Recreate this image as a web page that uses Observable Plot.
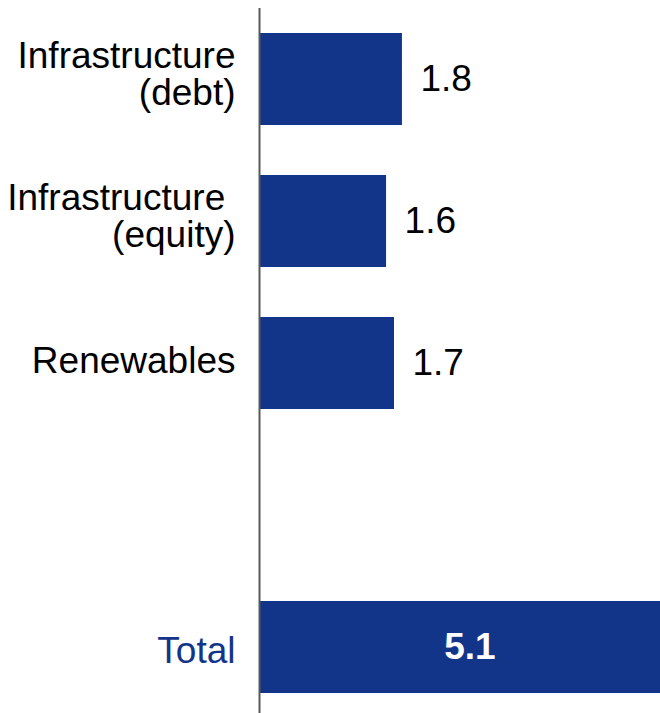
<!DOCTYPE html>
<html>
<head>
<meta charset="utf-8">
<script src="https://cdn.jsdelivr.net/npm/d3@7"></script>
<script src="https://cdn.jsdelivr.net/npm/@observablehq/plot@0.6"></script>
<style>
  html, body { margin: 0; padding: 0; background: #fff; }
  #chart svg { display: block; }
</style>
</head>
<body>
<div id="chart"></div>
<script>
const categories = ["Infrastructure\n(debt)", "Infrastructure\u00A0\n(equity)", "Renewables", "", "Total"];
const labels = ["Infrastructure\n(debt)", "Infrastructure\u00A0\n(equity)", "Renewables", "Total"];
const values = [1.8, 1.6, 1.7, 5.1];
const valueLabels = ["1.8", "1.6", "1.7", "5.1"];
const isTotal = [false, false, false, true];

const blue = "#133589";
const data = labels.map((c, i) => ({cat: c, value: values[i], label: valueLabels[i], total: isTotal[i]}));
const parts = data.filter(d => !d.total);
const totals = data.filter(d => d.total);
const multi = data.filter(d => d.cat.includes("\n"));
const single = data.filter(d => !d.cat.includes("\n") && !d.total);

const fs = 37;
const chart = Plot.plot({
  width: 660,
  height: 713,
  marginLeft: 259,
  marginRight: 0,
  marginTop: 8,
  marginBottom: 0,
  style: {fontFamily: "Liberation Sans, Arial, sans-serif", background: "#fff"},
  x: {domain: [0, 5.05], axis: null},
  y: {domain: categories, range: [8, 718], paddingInner: 0.35, paddingOuter: 0.175, axis: null},
  marks: [
    Plot.barX(data, {x: "value", y: "cat", fill: blue}),
    Plot.text(parts, {x: "value", y: "cat", text: "label", textAnchor: "start", dx: 18, fontSize: fs, fill: "#000"}),
    Plot.text(totals, {x: d => d.value / 2, y: "cat", text: "label", textAnchor: "middle", dx: 8, fontSize: fs, fontWeight: "bold", fill: "#fff"}),
    Plot.text(multi, {x: 0, y: "cat", text: "cat", textAnchor: "end", dx: -24, dy: -5, fontSize: fs, lineHeight: 1, fill: "#000"}),
    Plot.text(single, {x: 0, y: "cat", text: "cat", textAnchor: "end", dx: -24, dy: -2, fontSize: fs, fill: "#000"}),
    Plot.text(totals, {x: 0, y: "cat", text: "cat", textAnchor: "end", dx: -24, dy: 4, fontSize: fs, fill: blue}),
    Plot.ruleX([0], {stroke: "#595959", strokeWidth: 2})
  ]
});
document.getElementById("chart").appendChild(chart);
</script>
</body>
</html>
